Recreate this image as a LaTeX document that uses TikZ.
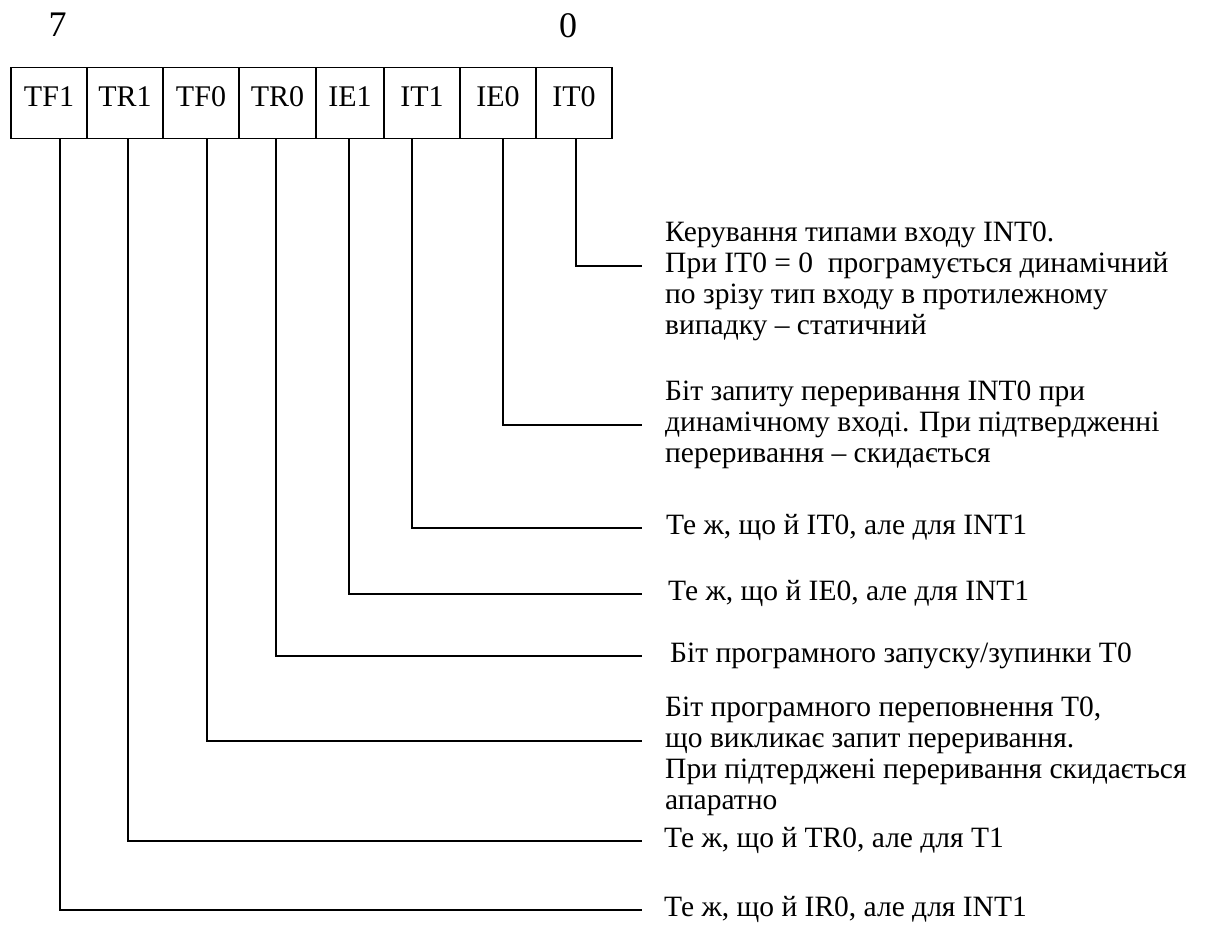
\documentclass[tikz,border=0pt]{standalone}
\usepackage{fontspec}
\setmainfont{Liberation Serif}
\begin{document}
\begin{tikzpicture}[x=1pt,y=-1pt,
  cell/.style={draw, line width=1.5pt, inner sep=0pt, anchor=north,
    font=\fontsize{30}{36}\selectfont, text height=39pt, text depth=32pt},
  wire/.style={line width=1.5pt},
  desc/.style={anchor=base west, inner sep=0pt, align=left,
    font=\fontsize{29.5}{31}\selectfont},
  bitno/.style={anchor=base, inner sep=0pt, font=\fontsize{36}{40}\selectfont}]
\useasboundingbox (0,0) rectangle (1215,947);

% bit numbers
\node[bitno] (msb) at (57.5,37) {7};
\node[bitno] (lsb) at (568,38) {0};

% register cells
\node[cell, minimum width=76pt] (TF1) at (49,67)    {TF1};
\node[cell, minimum width=76pt] (TR1) at (125,67)   {TR1};
\node[cell, minimum width=76pt] (TF0) at (201,67)   {TF0};
\node[cell, minimum width=77pt] (TR0) at (277.5,67) {TR0};
\node[cell, minimum width=68pt] (IE1) at (350,67)   {IE1};
\node[cell, minimum width=76pt] (IT1) at (422,67)   {IT1};
\node[cell, minimum width=76pt] (IE0) at (498,67)   {IE0};
\node[cell, minimum width=76pt] (IT0) at (574,67)   {IT0};

% descriptions (a multi-line node sits on the baseline of its last line)
\node[desc] (dIT0) at (665,334) {Керування типами входу INT0.\\
  При IT0 = 0 \ програмується динамічний\\
  по зрізу тип входу в протилежному\\
  випадку – статичний};
\node[desc] (dIE0) at (665,462) {Біт запиту переривання INT0 при\\
  динамічному вході. При підтвердженні\\
  переривання – скидається};
\node[desc] (dIT1) at (666,534) {Те ж, що й IT0, але для INT1};
\node[desc] (dIE1) at (668,600) {Те ж, що й IE0, але для INT1};
\node[desc] (dTR0) at (670,662) {Біт програмного запуску/зупинки T0};
\node[desc] (dTF0) at (665,809) {Біт програмного переповнення T0,\\
  що викликає запит переривання.\\
  При підтерджені переривання скидається\\
  апаратно};
\node[desc] (dTR1) at (664,847) {Те ж, що й TR0, але для T1};
\node[desc] (dTF1) at (664,916) {Те ж, що й IR0, але для INT1};

% leader ends
\coordinate (eIT0) at (642,266);
\coordinate (eIE0) at (642,425);
\coordinate (eIT1) at (642,528);
\coordinate (eIE1) at (642,594);
\coordinate (eTR0) at (642,656);
\coordinate (eTF0) at (642,741);
\coordinate (eTR1) at (642,841);
\coordinate (eTF1) at (642,910);

% leaders from the cells
\draw[wire] (IT0.south -| 576,0) |- (eIT0);
\draw[wire] (IE0.south -| 503,0) |- (eIE0);
\draw[wire] (IT1.south -| 412,0) |- (eIT1);
\draw[wire] (IE1.south -| 349,0) |- (eIE1);
\draw[wire] (TR0.south -| 276,0) |- (eTR0);
\draw[wire] (TF0.south -| 207,0) |- (eTF0);
\draw[wire] (TR1.south -| 128,0) |- (eTR1);
\draw[wire] (TF1.south -| 60,0)  |- (eTF1);
\end{tikzpicture}
\end{document}
